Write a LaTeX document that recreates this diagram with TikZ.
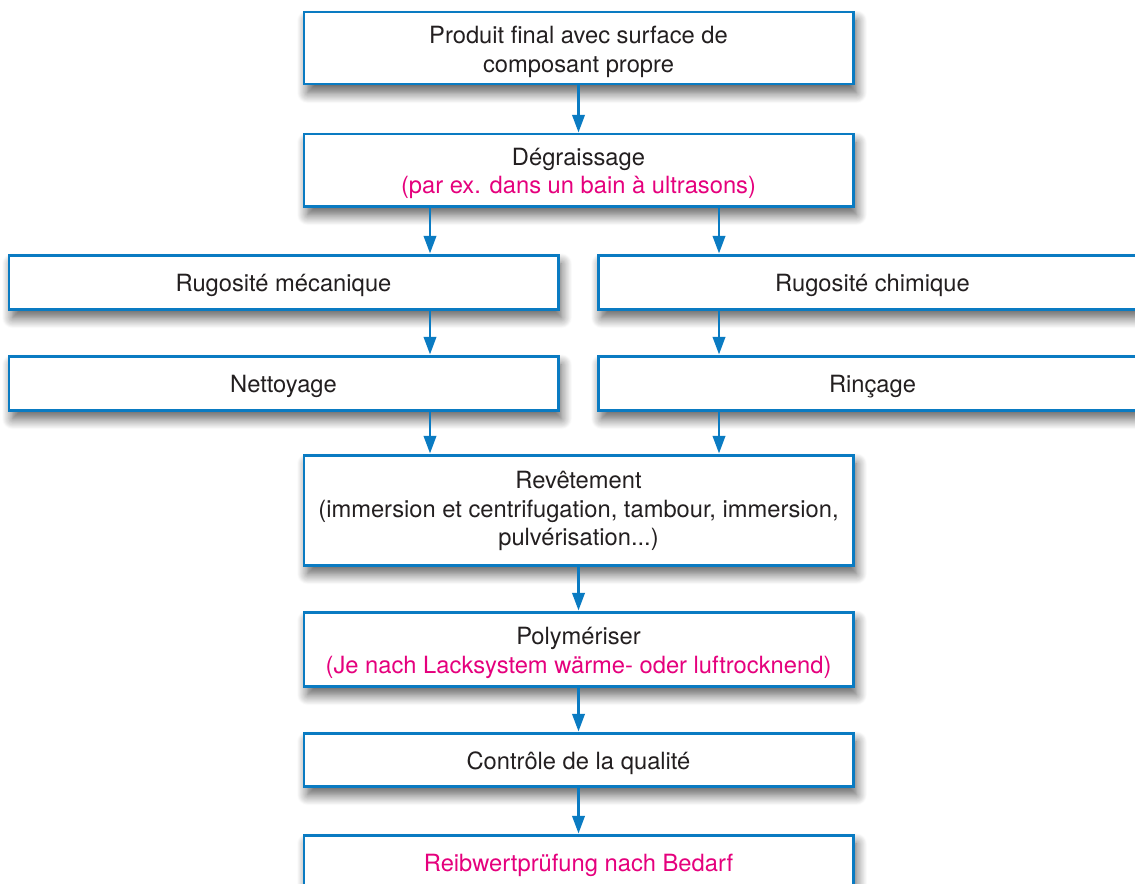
\documentclass[tikz,border=0pt]{standalone}
\usepackage{fontspec}
\setmainfont{TeX Gyre Heros}
\usetikzlibrary{arrows.meta,shadows.blur,calc}
\definecolor{bblue}{HTML}{0A7BC2}
\definecolor{mag}{HTML}{E5007D}
\definecolor{txt}{HTML}{231F20}
\tikzset{
  box/.style={draw=bblue, line width=1.7pt, fill=white, minimum width=10.98cm,
    inner sep=0pt,
    blur shadow={shadow xshift=2pt, shadow yshift=-5pt, shadow blur steps=14, shadow opacity=65, shadow blur radius=6pt}},
  lbl/.style={align=center, text=txt, inner sep=0pt, yshift=-2pt,
    font=\fontsize{13.5}{16.4}\selectfont},
  arr/.style={draw=bblue, line width=1.5pt, -{Triangle[length=10pt,width=7pt]}},
}
\begin{document}
\begin{tikzpicture}
\useasboundingbox (0,0) rectangle (22.7,-17.66);
\clip (0,0) rectangle (22.7,-17.66);
\node[box, minimum height=1.44cm, label={[lbl]center:{Produit final avec surface de\\composant propre}}] (top) at (11.57,-0.96) {};
\node[box, minimum height=1.44cm, label={[lbl]center:{Dégraissage\\{\color{mag}(par ex. dans un bain à ultrasons)}}}] (deg) at (11.57,-3.40) {};
\node[box, minimum height=1.08cm, label={[lbl]center:{Rugosité mécanique}}] (rm) at (5.67,-5.64) {};
\node[box, minimum height=1.08cm, label={[lbl]center:{Rugosité chimique}}] (rc) at (17.45,-5.64) {};
\node[box, minimum height=1.08cm, label={[lbl]center:{Nettoyage}}] (net) at (5.67,-7.66) {};
\node[box, minimum height=1.08cm, label={[lbl]center:{Rinçage}}] (rin) at (17.45,-7.66) {};
\node[box, minimum height=2.2cm, label={[lbl,yshift=1.4pt]center:{Revêtement\\(immersion et centrifugation, tambour, immersion,\\pulvérisation...)}}] (rev) at (11.57,-10.20) {};
\node[box, minimum height=1.48cm, label={[lbl]center:{Polymériser\\{\color{mag}(Je nach Lacksystem wärme- oder luftrocknend)}}}] (pol) at (11.57,-12.98) {};
\node[box, minimum height=1.06cm, label={[lbl]center:{Contrôle de la qualité}}] (ctl) at (11.57,-15.19) {};
\node[box, minimum height=1.08cm, label={[lbl,text=mag]center:{Reibwertprüfung nach Bedarf}}] (rei) at (11.57,-17.24) {};
\coordinate (la) at (8.60,0);
\coordinate (ra) at (14.38,0);
\draw[arr] (top.south) -- (deg.north);
\draw[arr] (deg.south -| la) -- (rm.north -| la);
\draw[arr] (deg.south -| ra) -- (rc.north -| ra);
\draw[arr] (rm.south -| la) -- (net.north -| la);
\draw[arr] (rc.south -| ra) -- (rin.north -| ra);
\draw[arr] (net.south -| la) -- (rev.north -| la);
\draw[arr] (rin.south -| ra) -- (rev.north -| ra);
\draw[arr] (rev.south) -- (pol.north);
\draw[arr] (pol.south) -- (ctl.north);
\draw[arr] (ctl.south) -- (rei.north);
\end{tikzpicture}
\end{document}
